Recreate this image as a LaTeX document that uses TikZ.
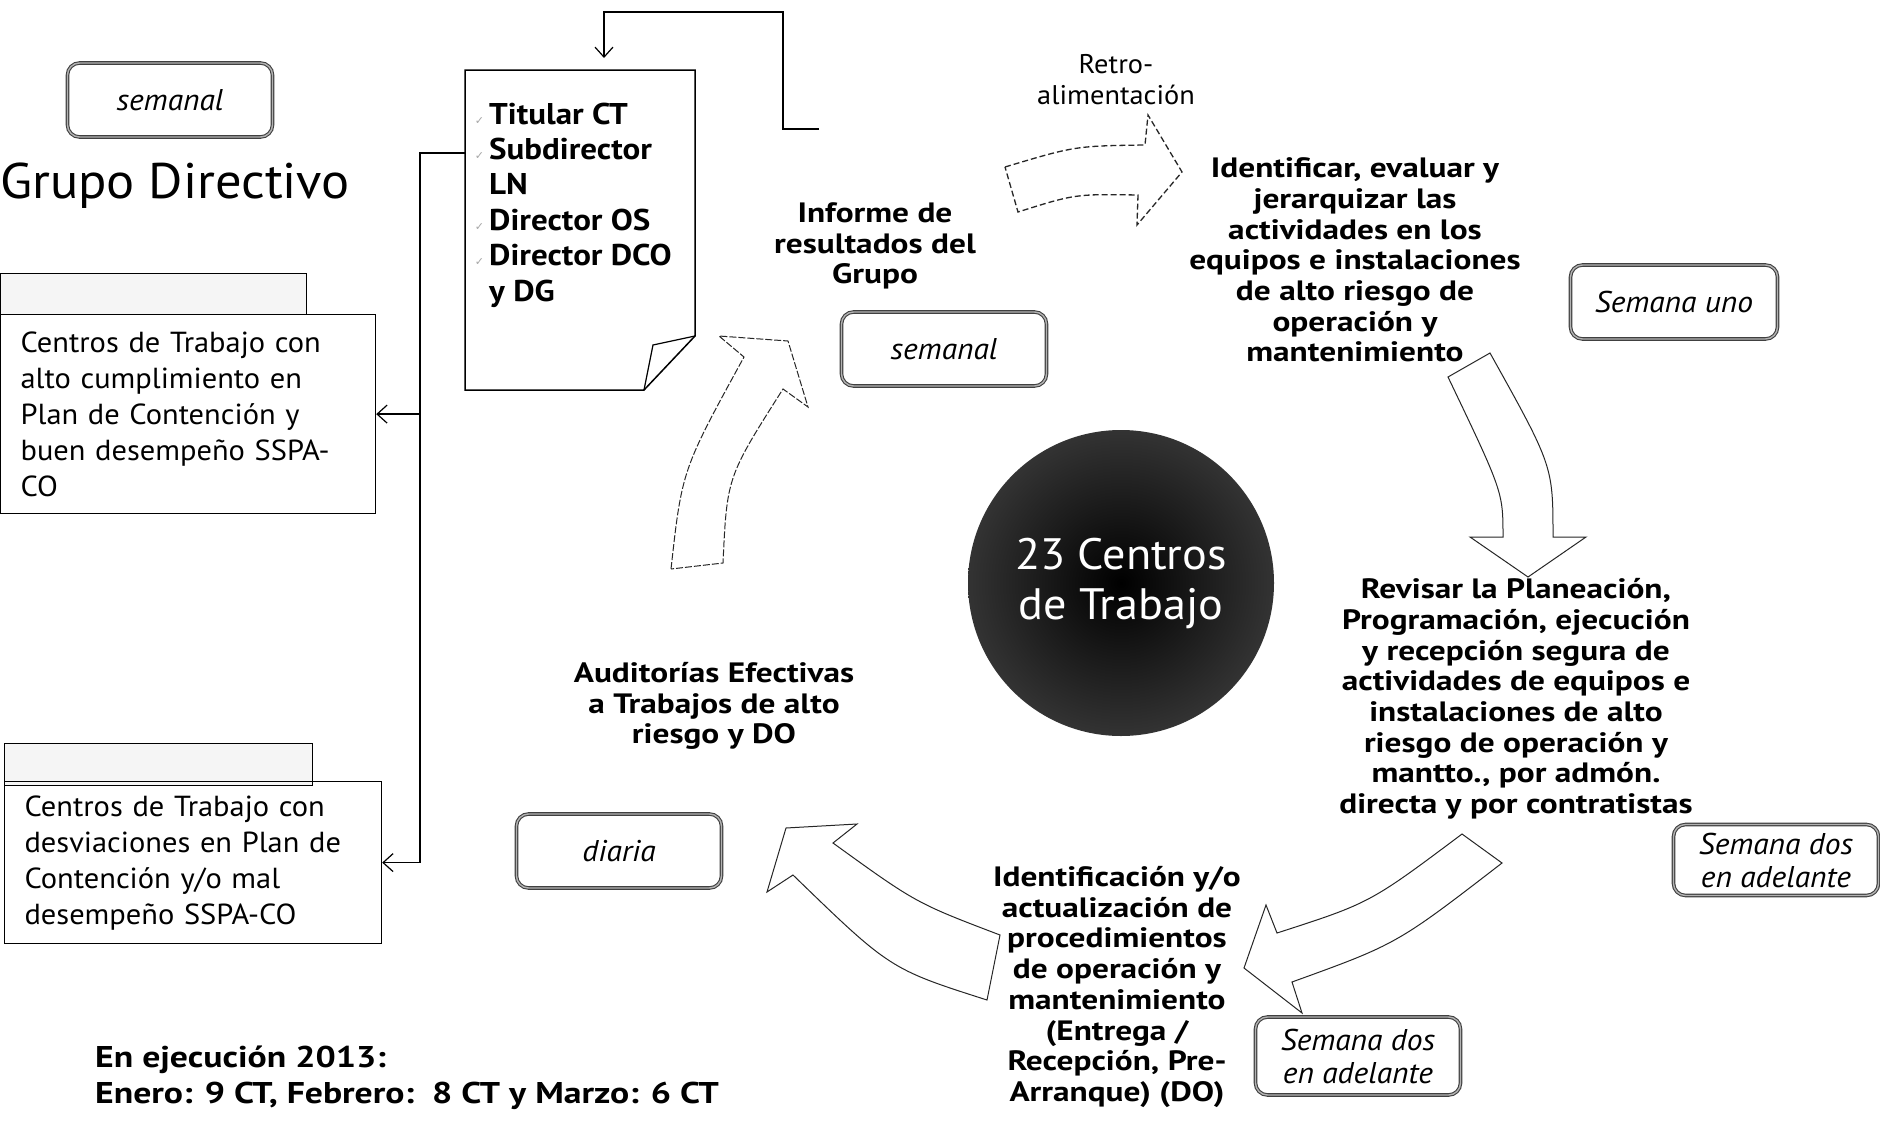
\documentclass[tikz,border=0pt]{standalone}
\usepackage{fontspec}
\setmainfont{PT Sans}[FakeStretch=1.05]
\newfontfamily\widefont{PT Sans}[FakeStretch=1.19]
\newfontfamily\listfont{PT Sans}[FakeStretch=1.1]
\newfontfamily\symfont{DejaVu Sans}
\usepackage{tikz}
\usetikzlibrary{positioning}
\usetikzlibrary{calc}
\usetikzlibrary{arrows.meta}
\definecolor{framegray}{gray}{0.25}
\newcommand{\chk}{\llap{{\symfont\fontsize{11}{11}\selectfont\color{black!35}✓}\hspace{5pt}}}

\tikzset{
  freq/.style={draw=framegray, double=black!30, double distance=1.4pt, line width=1.1pt,
    rounded corners=12pt, minimum width=205pt, minimum height=74pt, inner sep=0pt,
    align=center, font=\fontsize{30}{33}\selectfont\itshape},
  boldtxt/.style={align=center, inner sep=0pt, font=\widefont\fontsize{28}{30.7}\selectfont\bfseries},
  centro/.style={draw, line width=1.2pt, anchor=north west, align=left, inner ysep=0pt,
    inner xsep=20pt, font=\fontsize{29}{36}\selectfont},
  conn/.style={line width=1.3pt, -{Straight Barb[length=10pt,width=18pt,line width=1.2pt]}},
  bigarrow/.style={line width=1pt, draw=black!85, fill=white, line join=miter},
}

\begin{document}
\begin{tikzpicture}[x=1pt, y=-1pt]
    \useasboundingbox (0,0) rectangle (1880,1127);

    \node[freq] (sem1) at (170,100) {semanal};
    \node[freq] (sem2) at (944,349) {semanal};
    \node[freq, minimum width=207pt] (uno) at (1674,302) {Semana uno};
    \node[freq, minimum height=71pt] (dos1) at (1776,860) {Semana dos\\en adelante};
    \node[freq, minimum height=78pt] (dos2) at (1358,1056) {Semana dos\\en adelante};
    \node[freq] (diaria) at (619,851) {diaria};

    \node[anchor=west, inner sep=0pt, font=\fontsize{50}{50}\selectfont] (grupo) at (0,186) {Grupo Directivo};

    % centros de trabajo
    \draw[line width=1pt, fill=black!4] (0,273) rectangle (306,314);
    \node[centro, text width=335pt, minimum height=199pt] (alto) at (0,314)
        {Centros de Trabajo con\\alto cumplimiento en\\Plan de Contención y\\buen desempeño SSPA-\\CO};
    \draw[line width=1pt, fill=black!4] (4,743) rectangle (312,785);
    \node[centro, text width=337pt, minimum height=162pt] (desv) at (4,781)
        {Centros de Trabajo con\\desviaciones en Plan de\\Contención y/o mal\\desempeño SSPA-CO};

    % documento
    \draw[line width=1.5pt, fill=white] (465,70) -- (695,70) -- (695,336) -- (644,390) -- (465,390) -- cycle;
    \draw[line width=1.2pt] (695,336) -- (653,345) -- (644,390);
    \node[anchor=west, align=left, inner sep=0pt, font=\listfont\fontsize{30}{35.4}\selectfont\bfseries] (lista) at (489,205)
        {\chk Titular CT\\\chk Subdirector\\LN\\\chk Director OS\\\chk Director DCO\\y DG};

    \coordinate (docw) at (465,153);
    \coordinate (fork) at (420,153);
    \draw[conn] (docw) -- (fork) |- (alto.east);
    \draw[conn] (fork) |- (desv.east);

    \coordinate (fb) at (819,129);
    \coordinate (doctop) at (604,70);
    \draw[conn, shorten >=12pt] (fb) -- (783,129) -- (783,12) -| (doctop);

    \node[align=center, inner sep=0pt, font=\fontsize{27}{31}\selectfont] (retro) at (1116,80) {Retro-\\alimentación};
    \node[boldtxt] (informe) at (875,246) {Informe de\\resultados del\\Grupo};
    \node[boldtxt] (identificar) at (1355,260)
        {Identificar, evaluar y\\jerarquizar las\\actividades en los\\equipos e instalaciones\\de alto riesgo de\\operación y\\mantenimiento};
    \node[boldtxt] (revisar) at (1516,699)
        {Revisar la Planeación,\\Programación, ejecución\\y recepción segura de\\actividades de equipos e\\instalaciones de alto\\riesgo de operación y\\mantto., por admón.\\directa y por contratistas};
    \node[boldtxt] (procedim) at (1117,987)
        {Identificación y/o\\actualización de\\procedimientos\\de operación y\\mantenimiento\\(Entrega /\\Recepción, Pre-\\Arranque) (DO)};
    \node[boldtxt] (auditorias) at (714,706) {Auditorías Efectivas\\a Trabajos de alto\\riesgo y DO};
    \node[anchor=west, align=left, inner sep=0pt, font=\widefont\fontsize{30}{36}\selectfont\bfseries] (ejecucion) at (95,1078)
        {En ejecución 2013:\\Enero: 9 CT, Febrero:~~8 CT y Marzo: 6 CT};

    \node[circle, minimum size=306pt, inner color=black, outer color=black!80, text=white, align=center,
        font=\fontsize{44}{50}\selectfont] (hub) at (1121,583) {23 Centros\\de Trabajo};

    % flechas del ciclo
    \draw[bigarrow, line width=1.3pt, dash pattern=on 6pt off 3pt] (1005,167) .. controls (1075,146) .. (1145,145)
        -- (1148,115) -- (1182,172) -- (1137,225) -- (1138,195) .. controls (1075,194) .. (1018,212) -- cycle;
    \draw[bigarrow] (1448,377) .. controls (1503,492) .. (1503,537) -- (1470,537) -- (1528,577)
        -- (1586,537) -- (1553,537) .. controls (1553,466) .. (1490,353) -- cycle;
    \draw[bigarrow] (1462,834) -- (1502,863) .. controls (1397,944) .. (1292,982) -- (1302,1013)
        -- (1244,968) -- (1266,905) -- (1277,933) .. controls (1370,903) .. (1462,834) -- cycle;
    \draw[bigarrow] (786,828) -- (857,824) -- (833,843) .. controls (916,903) .. (1000,935)
        -- (987,1000) .. controls (890,969) .. (793,875) -- (767,892) -- cycle;
    \draw[bigarrow, dash pattern=on 7pt off 2pt] (671,569) .. controls (682,470) .. (744,357) -- (719,336)
        -- (788,341) -- (808,407) -- (783,389) .. controls (727,477) .. (723,563) -- cycle;
\end{tikzpicture}
\end{document}
